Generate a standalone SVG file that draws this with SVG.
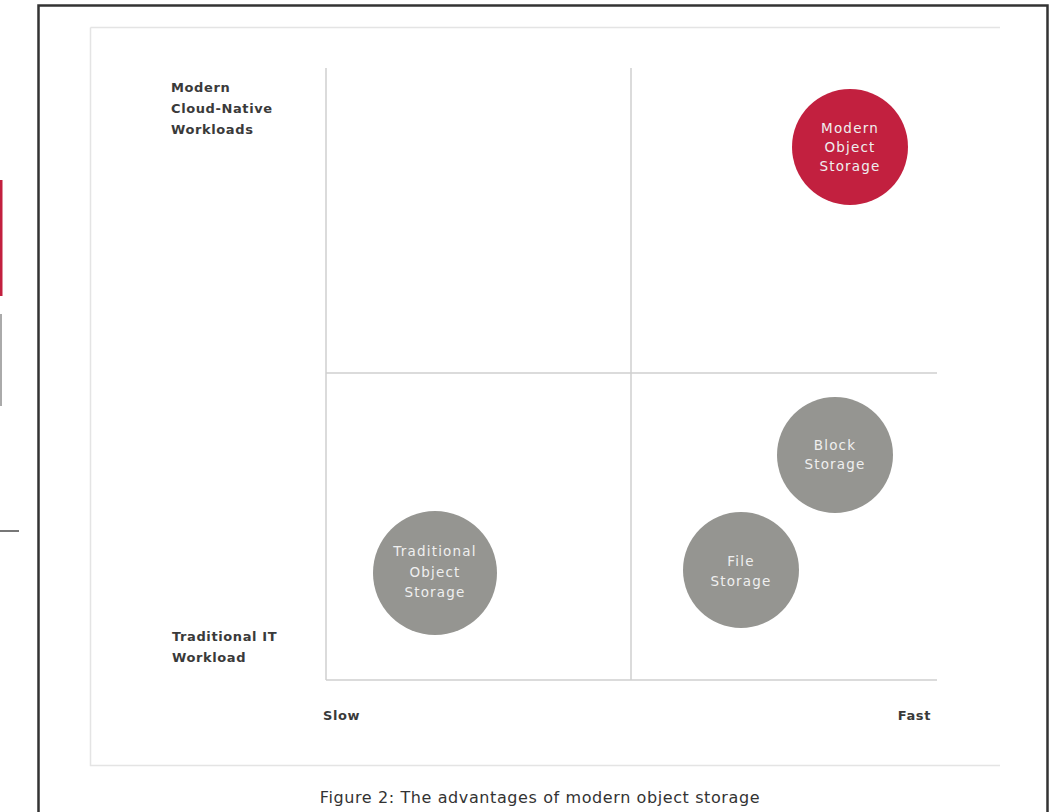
<svg xmlns="http://www.w3.org/2000/svg" width="1055" height="812" viewBox="0 0 1055 812">
<style>
.lbl{font-family:"DejaVu Sans","Liberation Sans",sans-serif;font-size:13px;fill:#3a3a3a;font-weight:bold;letter-spacing:0.6px}
.ctext{font-family:"DejaVu Sans","Liberation Sans",sans-serif;font-size:13.5px;fill:#efefef;text-anchor:middle;letter-spacing:1.2px}
.grid{stroke:#cfcfcf;stroke-width:1.5;fill:none}
.gray{fill:#959591}
.red{fill:#c2203f}
</style>
<rect width="1055" height="812" fill="#fff"/>
<g id="side-fragments">
<rect x="0" y="180" width="2.5" height="116" fill="#c2203f"/>
<rect x="0" y="314" width="2" height="92" fill="#aaa"/>
<line x1="0" y1="531" x2="19" y2="531" stroke="#777" stroke-width="2"/>
</g>
<g id="frame">
<path d="M38.5 820 V5.5 H1047.5 V820" fill="none" stroke="#333" stroke-width="2.5"/>
<path d="M90.5 27.5 H1000 M90.5 27.5 V765.5 H1000" fill="none" stroke="#e4e4e4" stroke-width="1.5"/>
</g>
<g id="connectors">
<line class="grid" x1="326" y1="68" x2="326" y2="680"/>
<line class="grid" x1="326" y1="680" x2="937" y2="680"/>
<line class="grid" x1="631" y1="68" x2="631" y2="680"/>
<line class="grid" x1="326" y1="373" x2="937" y2="373"/>
</g>
<g id="axis-labels">
<text class="lbl" x="171" y="92">Modern</text>
<text class="lbl" x="171" y="113">Cloud-Native</text>
<text class="lbl" x="171" y="134">Workloads</text>
<text class="lbl" x="172" y="641">Traditional IT</text>
<text class="lbl" x="172" y="662">Workload</text>
<text class="lbl" x="323" y="720">Slow</text>
<text class="lbl" x="931" y="720" text-anchor="end">Fast</text>
</g>
<g id="modern-object-storage">
<circle class="red" cx="850" cy="147" r="58"/>
<text class="ctext" x="850" y="133">Modern</text>
<text class="ctext" x="850" y="152">Object</text>
<text class="ctext" x="850" y="171">Storage</text>
</g>
<g id="block-storage">
<circle class="gray" cx="835" cy="455" r="58"/>
<text class="ctext" x="835" y="450">Block</text>
<text class="ctext" x="835" y="469">Storage</text>
</g>
<g id="file-storage">
<circle class="gray" cx="741" cy="570" r="58"/>
<text class="ctext" x="741" y="566">File</text>
<text class="ctext" x="741" y="586">Storage</text>
</g>
<g id="traditional-object-storage">
<circle class="gray" cx="435" cy="573" r="62"/>
<text class="ctext" x="435" y="556">Traditional</text>
<text class="ctext" x="435" y="577">Object</text>
<text class="ctext" x="435" y="597">Storage</text>
</g>
<g id="caption">
<text x="540" y="803" text-anchor="middle" style="font-family:'DejaVu Sans','Liberation Sans',sans-serif;font-size:16px;fill:#333;letter-spacing:0.6px">Figure 2: The advantages of modern object storage</text>
</g>
</svg>
